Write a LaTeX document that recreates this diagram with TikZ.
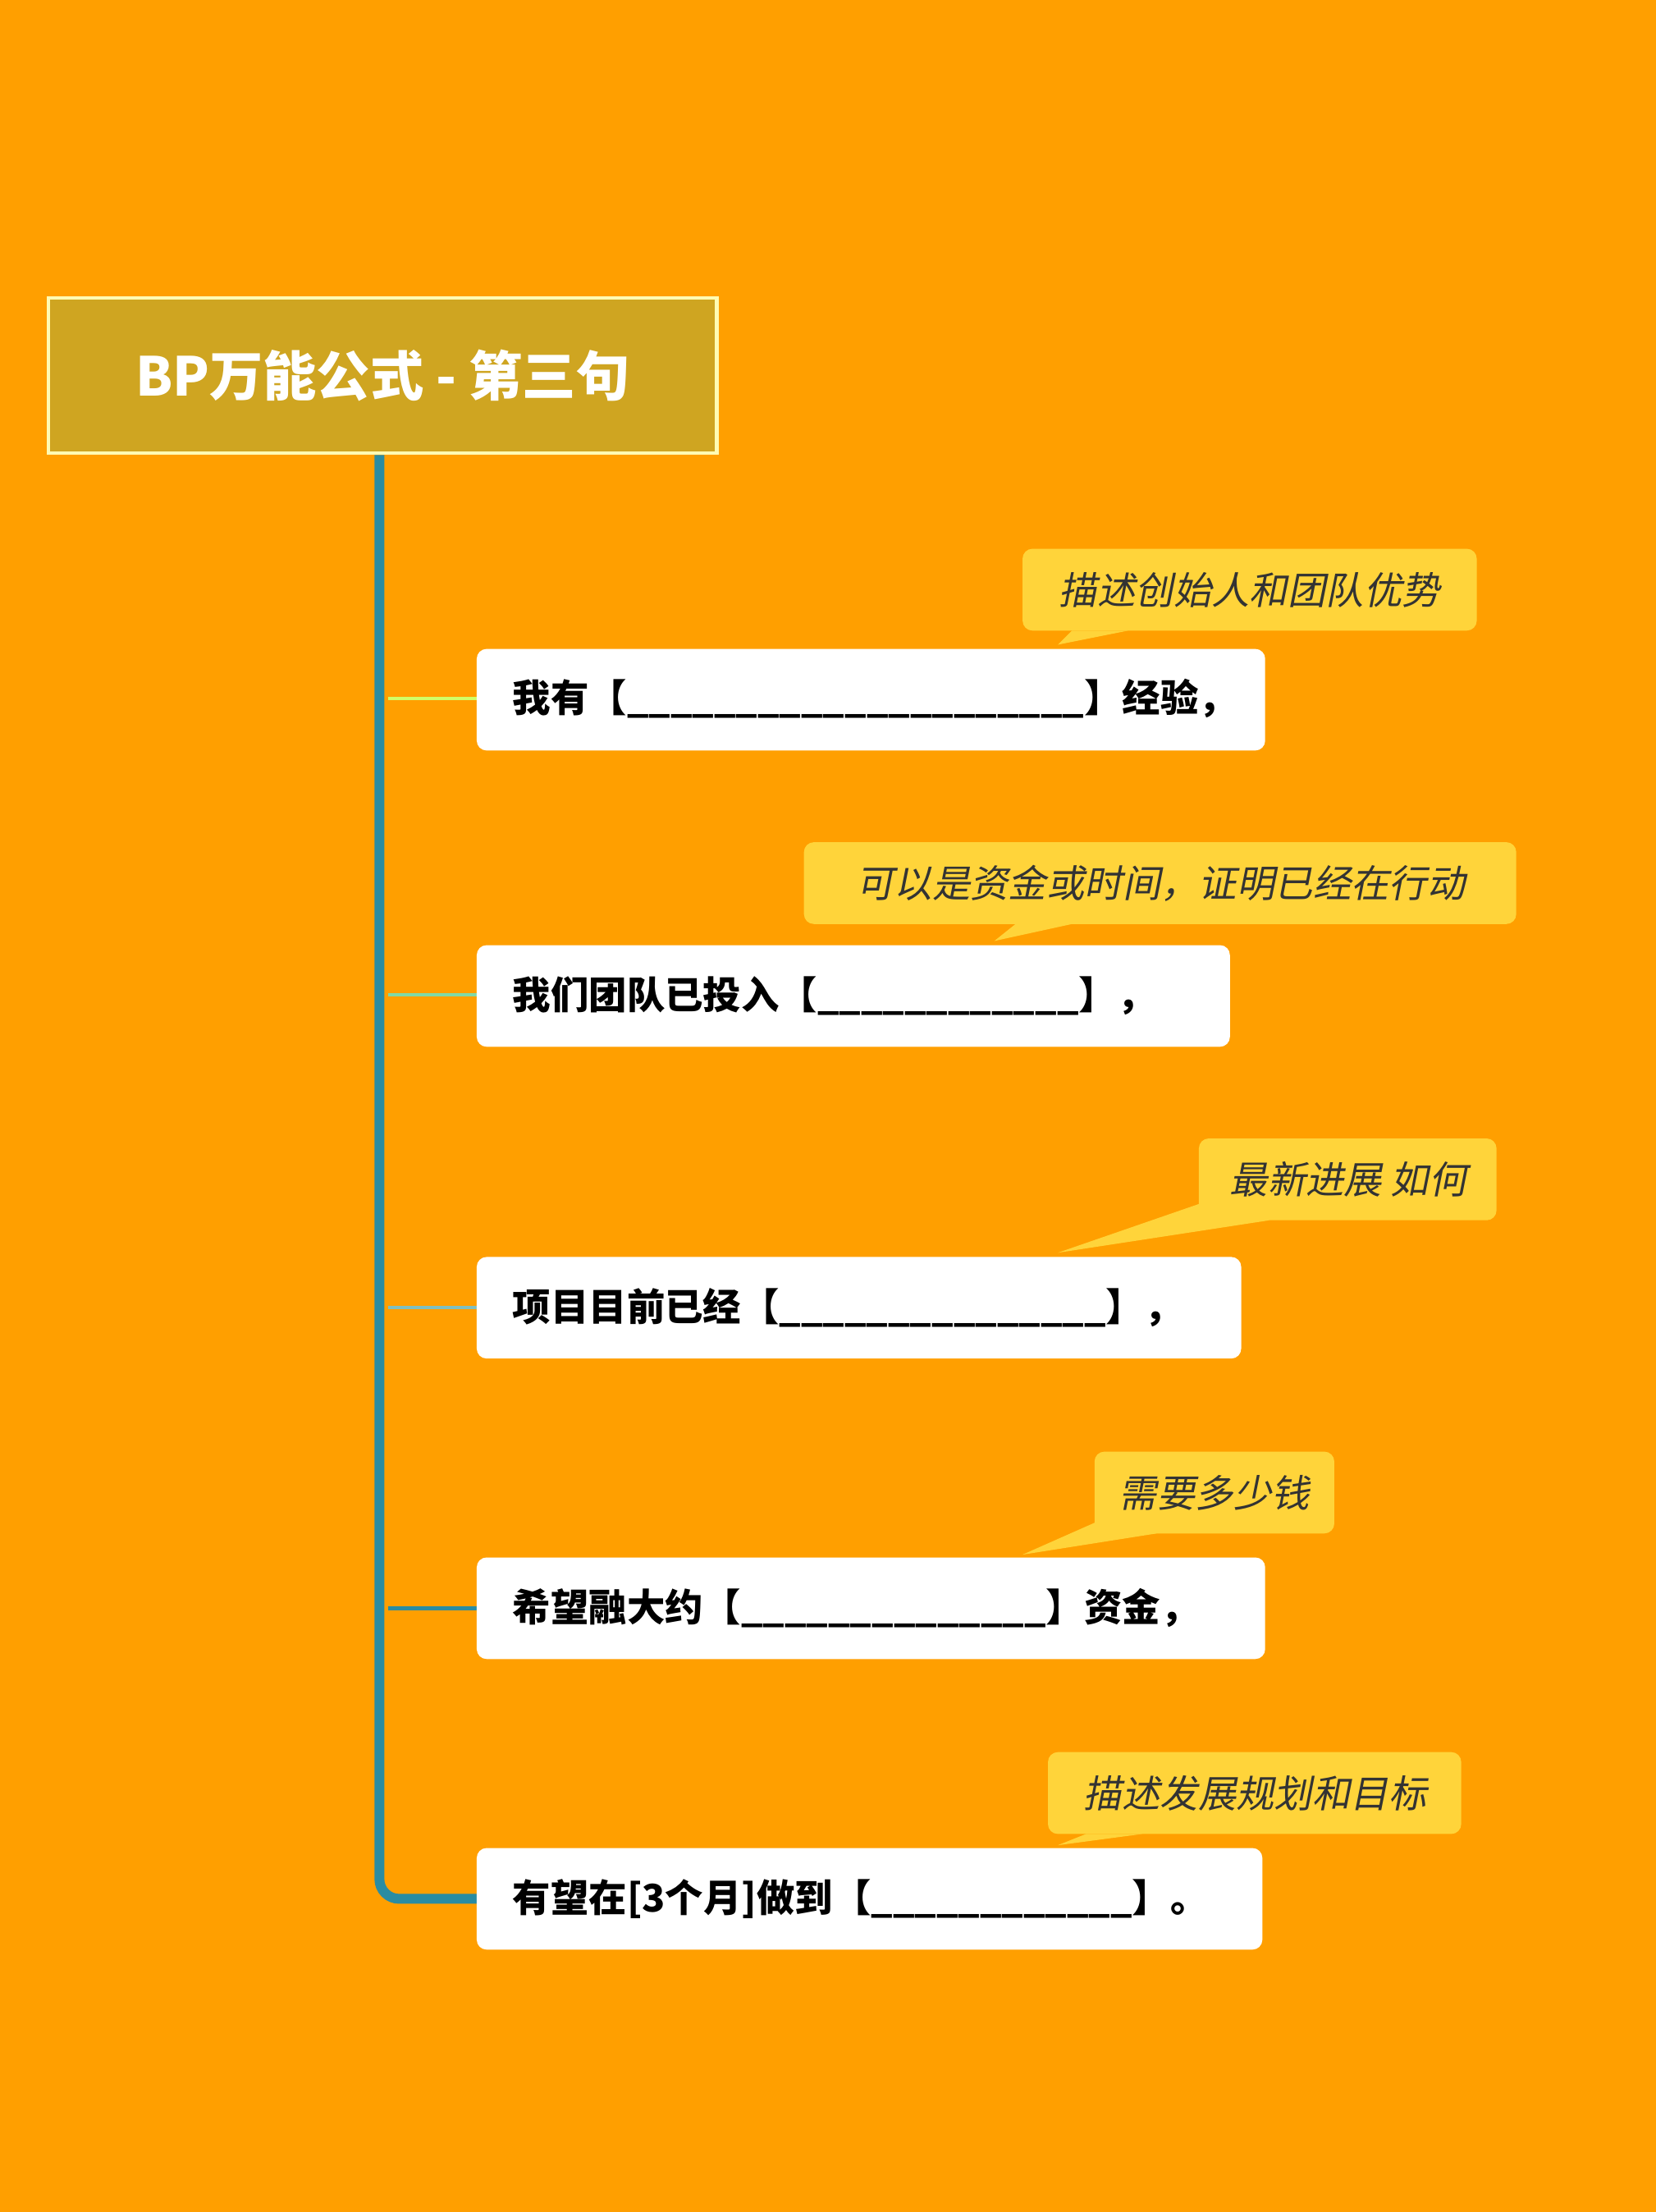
\documentclass[tikz,border=0pt]{standalone}
\usepackage{fontspec}
\newfontfamily\cjk{Noto Sans CJK SC}
\newfontfamily\cjkit{Noto Sans CJK SC}[FakeSlant=0.2]
\definecolor{bg}{HTML}{FF9F00}
\definecolor{tbox}{HTML}{CFA521}
\definecolor{tline}{HTML}{2A8CA2}
\definecolor{call}{HTML}{FFD43A}
\tikzset{
 item/.style={fill=white,rounded corners=7pt,anchor=north west,inner sep=0pt},
 itext/.style={anchor=west,font=\cjk\bfseries\fontsize{27}{30}\selectfont,text=black},
 callbox/.style={fill=call,rounded corners=7pt},
 ctext/.style={font=\cjkit\fontsize{27}{30}\selectfont,text=black!80},
 branch/.style={line width=2.5pt,draw=#1},
}
\begin{document}
\begin{tikzpicture}[x=1pt,y=-1pt]
\fill[bg] (0,0) rectangle (1174,1568);
\useasboundingbox (0,0) rectangle (1174,1568);
% title
\node[draw=yellow!30!white,line width=2.5pt,fill=tbox,minimum width=474pt,minimum height=110pt,anchor=north west,text=white,font=\cjk\bfseries\fontsize{38}{42}\selectfont] (title) at (33,210) {BP万能公式 - 第三句};
% boxes
\coordinate (c1) at (338,495);
\coordinate (c2) at (338,705);
\coordinate (c3) at (338,927);
\coordinate (c4) at (338,1140);
\coordinate (c5) at (338,1346);
\draw[branch=green!30!yellow!60!white] (275,495) -- (c1);
\draw[branch=green!40!teal!50!white] (275,705) -- (c2);
\draw[branch=teal!50!white] (275,927) -- (c3);
\draw[branch=tline] (275,1140) -- (c4);
\draw[tline,line width=7pt,rounded corners=14pt] (title.south -| 269,0) -- (269,1346) -- (c5);
\fill[item] (338,460) rectangle (897,532);
\fill[item] (338,670) rectangle (872,742);
\fill[item] (338,891) rectangle (880,963);
\fill[item] (338,1104) rectangle (897,1176);
\fill[item] (338,1310) rectangle (895,1382);
\node[itext] (t1) at (360,495) {我有【\_\_\_\_\_\_\_\_\_\_\_\_\_\_\_\_\_\_\_\_\_】经验，};
\node[itext] (t2) at (360,706) {我们团队已投入【\_\_\_\_\_\_\_\_\_\_\_\_】，};
\node[itext] (t3) at (360,927) {项目目前已经【\_\_\_\_\_\_\_\_\_\_\_\_\_\_\_】，};
\node[itext] (t4) at (360,1140) {希望融大约【\_\_\_\_\_\_\_\_\_\_\_\_\_\_】资金，};
\node[itext] (t5) at (360,1346) {有望在[3个月]做到【\_\_\_\_\_\_\_\_\_\_\_\_】。};
% callouts
\fill[callbox] (725,389) rectangle (1047,447);
\fill[call] (760,447) -- (750,457) -- (800,447) -- cycle;
\node[ctext] (n1) at (886,418) {描述创始人和团队优势};
\fill[callbox] (570,597) rectangle (1075,655);
\fill[call] (720,655) -- (705,667) -- (760,655) -- cycle;
\node[ctext] (n2) at (823,626) {可以是资金或时间，证明已经在行动};
\fill[callbox] (850,807) rectangle (1061,865);
\fill[call] (860,850) -- (750,888) -- (900,865) -- cycle;
\node[ctext] (n3) at (956,836) {最新进展 如何};
\fill[callbox] (776,1029) rectangle (946,1087);
\fill[call] (786,1075) -- (725,1102) -- (820,1087) -- cycle;
\node[ctext] (n4) at (861,1058) {需要多少钱};
\fill[callbox] (743,1242) rectangle (1036,1300);
\fill[call] (770,1300) -- (750,1308) -- (810,1300) -- cycle;
\node[ctext] (n5) at (890,1271) {描述发展规划和目标};
\end{tikzpicture}
\end{document}
